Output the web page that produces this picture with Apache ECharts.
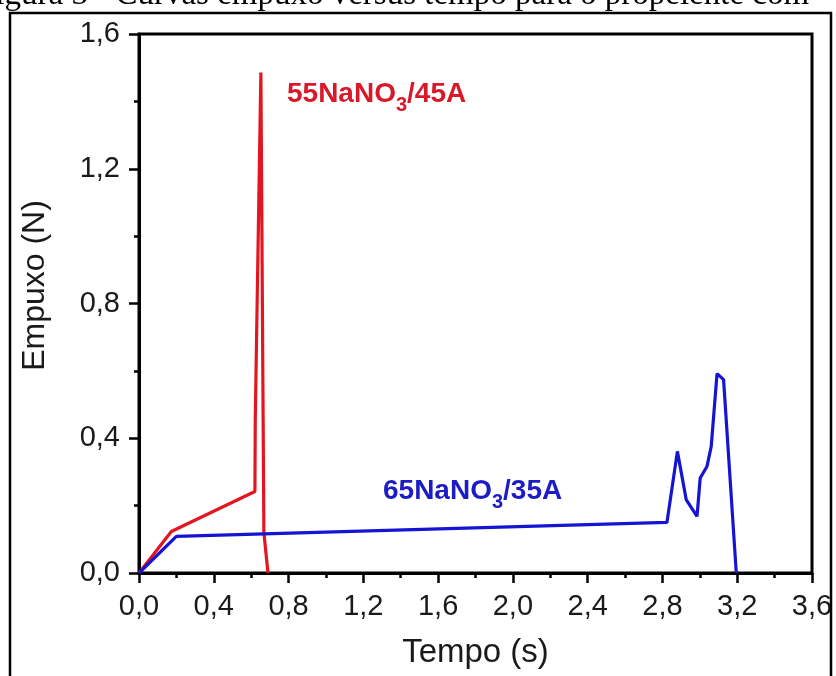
<!DOCTYPE html>
<html>
<head>
<meta charset="utf-8">
<script src="https://cdn.jsdelivr.net/npm/echarts@6/dist/echarts.min.js"></script>
<style>
html,body{margin:0;padding:0;background:#fff;}
#chart{width:836px;height:676px;}
</style>
</head>
<body>
<div id="chart"></div>
<script>
// Data (time in s, thrust in N)
var redName = '55NaNO3/45A';
var redTime   = [0, 0.173, 0.62, 0.622, 0.652, 0.664, 0.668, 0.69];
var redThrust = [0, 0.123, 0.242, 0.46, 1.486, 0.46, 0.12, 0];

var blueName = '65NaNO3/35A';
var blueTime   = [0, 0.2, 2.824, 2.88, 2.927, 2.985, 3.002, 3.038, 3.061, 3.092, 3.127, 3.195];
var blueThrust = [0, 0.109, 0.150, 0.361, 0.218, 0.168, 0.282, 0.316, 0.376, 0.592, 0.574, 0];

var xTicks = [0, 0.4, 0.8, 1.2, 1.6, 2.0, 2.4, 2.8, 3.2, 3.6];
var yTicks = [0, 0.4, 0.8, 1.2, 1.6];

function pairs(xs, ys){ return xs.map(function(x,i){ return [x, ys[i]]; }); }
function fmt(v){ return v.toFixed(1).replace('.', ','); }

var FONT = '"Liberation Sans", Arial, Helvetica, sans-serif';
var chart = echarts.init(document.getElementById('chart'));

var axisCommon = {
  type: 'value',
  axisLine: { show: true, lineStyle: { color: '#000', width: 3 } },
  axisTick: { show: true, inside: false, length: 10, lineStyle: { color: '#000', width: 2.5 } },
  minorTick: { show: true, splitNumber: 2, length: 5, lineStyle: { color: '#000', width: 2.5 } },
  splitLine: { show: false },
  axisLabel: { color: '#1a1a1a', fontSize: 29, fontFamily: FONT, formatter: fmt }
};

chart.setOption({
  animation: false,
  backgroundColor: '#fff',
  grid: { left: 139, top: 34, width: 673, height: 539, show: true, borderColor: '#000', borderWidth: 3, backgroundColor: 'transparent' },
  xAxis: Object.assign({}, axisCommon, {
    min: xTicks[0], max: xTicks[xTicks.length-1], interval: 0.4,
    name: 'Tempo (s)', nameLocation: 'middle', nameGap: 63,
    nameTextStyle: { color: '#1a1a1a', fontSize: 33, fontFamily: FONT },
    axisLabel: Object.assign({}, axisCommon.axisLabel, { margin: 19 })
  }),
  yAxis: Object.assign({}, axisCommon, {
    min: yTicks[0], max: yTicks[yTicks.length-1], interval: 0.4,
    name: 'Empuxo (N)', nameLocation: 'middle', nameGap: 88,
    nameTextStyle: { color: '#1a1a1a', fontSize: 32, fontFamily: FONT, padding: [0, 0, 0, 36] },
    axisLabel: Object.assign({}, axisCommon.axisLabel, { margin: 19 })
  }),
  series: [
    { name: redName, type: 'line', data: pairs(redTime, redThrust), showSymbol: false, smooth: false,
      lineStyle: { color: '#e3161f', width: 3.2 }, itemStyle: { color: '#e3161f' }, z: 3 },
    { name: blueName, type: 'line', data: pairs(blueTime, blueThrust), showSymbol: false, smooth: false,
      lineStyle: { color: '#1414d2', width: 3.2 }, itemStyle: { color: '#1414d2' }, z: 4 }
  ],
  graphic: [
    { type: 'rect', shape: { x: 10, y: 13, width: 821, height: 700 }, style: { fill: 'none', stroke: '#000', lineWidth: 2.5 }, silent: true, z: 1 },
    { type: 'text', x: -23, y: 12, silent: true, style: {
        text: 'Figura 3 - Curvas empuxo versus tempo para o propelente com',
        font: '33px "Liberation Serif", "Times New Roman", serif', fill: '#000', verticalAlign: 'bottom', align: 'left' } },
    { type: 'text', x: 287, y: 80, silent: true, z: 10, style: {
        text: '{a|55NaNO}{s|3}{a|/45A}', verticalAlign: 'top', align: 'left',
        rich: {
          a: { fontSize: 28, fontWeight: 'bold', fontFamily: FONT, fill: '#d8192a', lineHeight: 28, verticalAlign: 'top' },
          s: { fontSize: 20, fontWeight: 'bold', fontFamily: FONT, fill: '#d8192a', lineHeight: 20, padding: [15, 0, 0, 0], verticalAlign: 'top' }
        } } },
    { type: 'text', x: 383, y: 477, silent: true, z: 10, style: {
        text: '{a|65NaNO}{s|3}{a|/35A}', verticalAlign: 'top', align: 'left',
        rich: {
          a: { fontSize: 28, fontWeight: 'bold', fontFamily: FONT, fill: '#1c1cc4', lineHeight: 28, verticalAlign: 'top' },
          s: { fontSize: 20, fontWeight: 'bold', fontFamily: FONT, fill: '#1c1cc4', lineHeight: 20, padding: [15, 0, 0, 0], verticalAlign: 'top' }
        } } }
  ]
});
</script>
</body>
</html>
